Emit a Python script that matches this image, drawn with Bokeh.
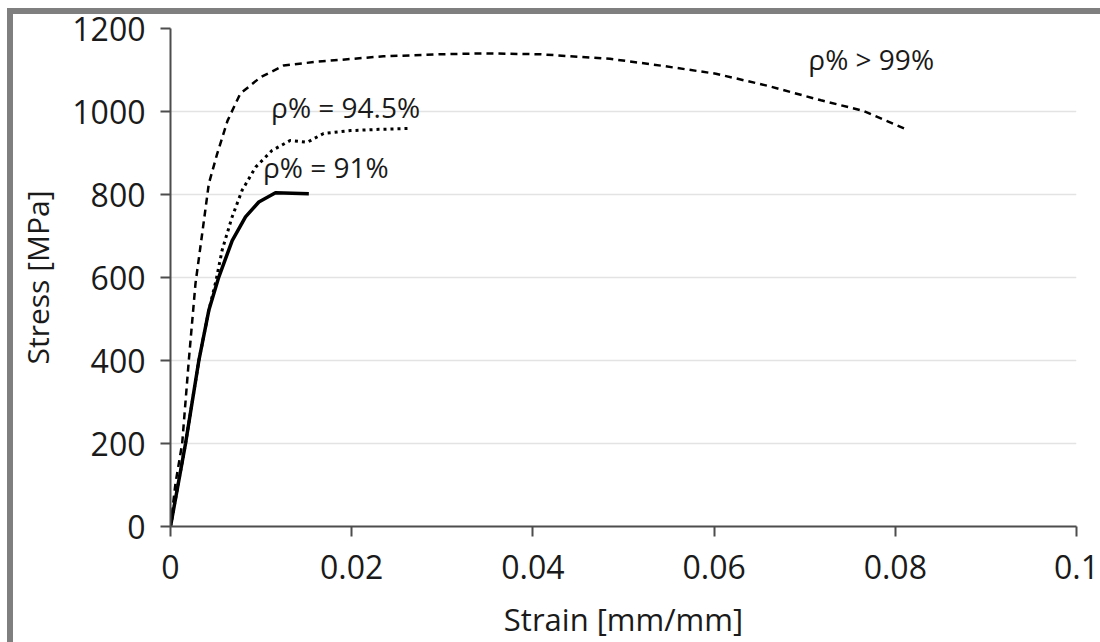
from bokeh.plotting import figure
from bokeh.models import Range1d, FixedTicker, Label, InlineStyleSheet, Title
from bokeh.embed import file_html
from bokeh.resources import INLINE

# ---- data ----
strain_99 = [0, 0.00055, 0.00129, 0.00202, 0.00276, 0.0035, 0.00423, 0.00515, 0.0063, 0.0077,
             0.0099, 0.0125, 0.0162, 0.0235, 0.0300, 0.0345, 0.0408, 0.0485, 0.0543, 0.0602,
             0.0659, 0.0718, 0.0764, 0.0812]
stress_99 = [0, 104, 200, 400, 586, 706, 826, 898, 978, 1043,
             1082, 1111, 1120, 1133, 1138, 1140, 1138, 1127, 1110, 1091,
             1062, 1027, 1002, 957]

strain_945 = [0, 0.00166, 0.00313, 0.00423, 0.0050, 0.0057, 0.0068, 0.0079, 0.0094, 0.0112,
              0.0132, 0.0151, 0.0169, 0.0199, 0.0230, 0.0262]
stress_945 = [0, 200, 400, 521, 590, 666, 746, 810, 866, 906,
              930, 926, 947, 954, 957, 959]

strain_91 = [0, 0.00166, 0.00313, 0.00423, 0.00533, 0.00681, 0.00828, 0.00975, 0.01159, 0.01527]
stress_91 = [0, 200, 400, 521, 601, 689, 746, 782, 804, 802]

x_ticks = [0, 0.02, 0.04, 0.06, 0.08, 0.1]
x_tick_labels = ["0", "0.02", "0.04", "0.06", "0.08", "0.1"]
y_ticks = [0, 200, 400, 600, 800, 1000, 1200]
y_tick_labels = ["0", "200", "400", "600", "800", "1000", "1200"]

FONT = "Open Sans"
TXT = "#1a1a1a"

frame_css = InlineStyleSheet(css="""
:host { position: relative; }
:host::before { content: ""; position: absolute; left: 7px; top: 8px; width: 6px; height: 634px;
                background: #7f7f7f; z-index: 10; pointer-events: none; }
:host::after { content: ""; position: absolute; left: 7px; top: 8px; width: 1093px; height: 6px;
               background: #7f7f7f; z-index: 10; pointer-events: none; }
""")

p = figure(width=1100, height=642, output_backend="svg", toolbar_location=None,
           x_range=Range1d(0, 0.1), y_range=Range1d(0, 1200),
           min_border_left=170, min_border_right=24, min_border_top=28, min_border_bottom=115,
           stylesheets=[frame_css])
p.outline_line_color = None
p.background_fill_color = "white"
p.border_fill_color = "white"

p.xaxis.ticker = FixedTicker(ticks=x_ticks)
p.yaxis.ticker = FixedTicker(ticks=y_ticks)
p.xaxis.major_label_overrides = dict(zip(x_ticks, x_tick_labels))
p.yaxis.major_label_overrides = dict(zip(y_ticks, y_tick_labels))

for ax in (p.xaxis, p.yaxis):
    ax.axis_line_color = "#4d4d4d"
    ax.axis_line_width = 2
    ax.major_tick_line_color = "#4d4d4d"
    ax.major_tick_line_width = 2
    ax.major_tick_in = 0
    ax.major_tick_out = 10
    ax.minor_tick_line_color = None
    ax.major_label_text_font = FONT
    ax.major_label_text_font_size = "32px"
    ax.major_label_text_color = TXT
    ax.axis_label_text_font = FONT
    ax.axis_label_text_font_size = "31px"
    ax.axis_label_text_font_style = "normal"
    ax.axis_label_text_color = TXT

p.xaxis.axis_label = "Strain [mm/mm]"
p.xaxis.major_label_standoff = 18
p.yaxis.major_label_standoff = 15
p.xaxis.axis_label_standoff = 16

# y-axis title as a side title in the left panel
p.add_layout(Title(text="Stress [MPa]", align="center", text_font=FONT,
                   text_font_size="30px", text_font_style="normal", text_color=TXT,
                   standoff=23, offset=8), "left")

p.xgrid.grid_line_color = None
p.ygrid.grid_line_color = "#e3e3e3"
p.ygrid.grid_line_width = 1.5

p.line(strain_99, stress_99, line_color="black", line_width=2.5, line_dash="7 5")
p.line(strain_945, stress_945, line_color="black", line_width=3, line_dash="3 4")
p.line(strain_91, stress_91, line_color="black", line_width=3.5)

for x, y, t in [(0.0704, 1126, "ρ% > 99%"), (0.0111, 1012, "ρ% = 94.5%"), (0.0102, 867, "ρ% = 91%")]:
    p.add_layout(Label(x=x, y=y, text=t, text_font=FONT, text_font_size="28px",
                       text_color=TXT, text_baseline="alphabetic", text_align="left"))

open("out.html", "w").write(file_html(p, INLINE))
